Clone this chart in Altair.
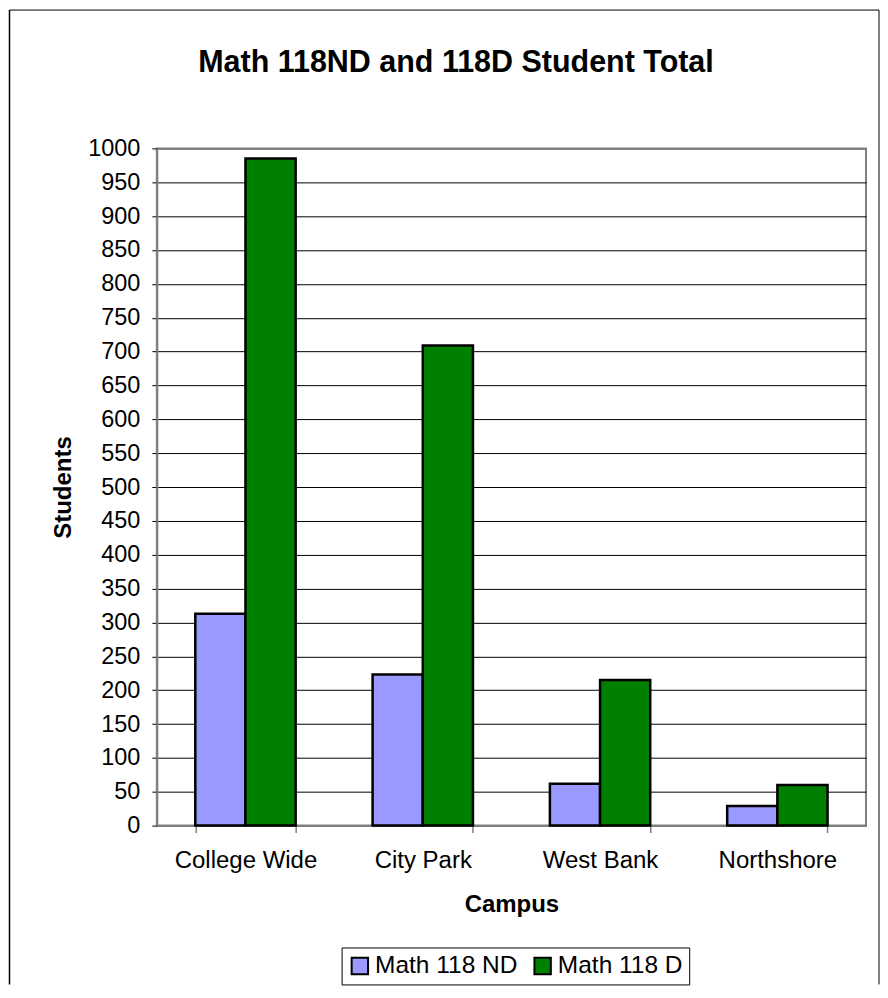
import altair as alt
import pandas as pd

campuses = ["College Wide", "City Park", "West Bank", "Northshore"]
nd_values = [313, 223, 62, 29]
d_values = [985, 709, 215, 60]
series = ["Math 118 ND", "Math 118 D"]
colors = ["#9999FF", "#008000"]
y_ticks = list(range(0, 1001, 50))
title_text = "Math 118ND and 118D Student Total"

rows = []
for c, a, b in zip(campuses, nd_values, d_values):
    rows.append({"Campus": c, "Series": series[0], "Students": a})
    rows.append({"Campus": c, "Series": series[1], "Students": b})
df = pd.DataFrame(rows)

W, H = 710, 678
FONT = "Liberation Sans"

bars = alt.Chart(df).mark_bar(stroke="black", strokeWidth=2.5).encode(
    x=alt.X(
        "Campus:N", sort=campuses,
        scale=alt.Scale(paddingInner=0.434, paddingOuter=0.217),
        axis=alt.Axis(title="Campus", labelAngle=0, tickBand="extent", tickSize=7,
                      labelPadding=16, titlePadding=20, domainColor="#808080",
                      domainWidth=2, tickColor="#808080", tickWidth=1.5, grid=False,
                      labelFont=FONT, labelFontSize=24, labelColor="black",
                      titleFont=FONT, titleFontSize=24, titleFontWeight="bold",
                      titleColor="black"),
    ),
    xOffset=alt.XOffset("Series:N", sort=series,
                        scale=alt.Scale(paddingInner=0, paddingOuter=0)),
    y=alt.Y(
        "Students:Q", scale=alt.Scale(domain=[0, 1000], nice=False),
        axis=alt.Axis(values=y_ticks, format="d", title="Students", tickSize=5,
                      labelPadding=12, titlePadding=12, grid=True,
                      gridColor=alt.condition("datum.value >= 1000", alt.value("#808080"), alt.value("black")),
                      gridWidth=alt.condition("datum.value >= 1000", alt.value(2), alt.value(1)),
                      domainColor="#808080", domainWidth=2, tickColor="black",
                      labelFont=FONT, labelFontSize=23.5, labelColor="black",
                      titleFont=FONT, titleFontSize=24, titleFontWeight="bold",
                      titleColor="black"),
    ),
    fill=alt.Fill(
        "Series:N", sort=series,
        scale=alt.Scale(domain=series, range=colors),
        legend=alt.Legend(title=None, orient="none", legendX=185, legendY=800,
                          direction="horizontal", strokeColor="black", padding=6,
                          symbolType="square", symbolSize=270, symbolStrokeColor="black",
                          symbolStrokeWidth=2, labelFontSize=24.5, labelFont=FONT,
                          labelColor="black", columnPadding=12, labelOffset=3),
    ),
)

title_df = pd.DataFrame({"t": [title_text]})
title_mark = alt.Chart(title_df).mark_text(
    font=FONT, fontSize=30.5, fontWeight="bold", color="black",
    align="center", baseline="alphabetic",
).encode(x=alt.value(299.5), y=alt.value(-76), text="t:N")

frame_df = pd.DataFrame({"k": [0]})
frame_left = alt.Chart(frame_df).mark_rule(color="black", strokeWidth=1.5).encode(
    x=alt.value(-147.5), y=alt.value(-138.5), y2=alt.value(837))
frame_top = alt.Chart(frame_df).mark_rule(color="black", strokeWidth=1).encode(
    x=alt.value(-147.5), x2=alt.value(723), y=alt.value(-138.5))
frame_right = alt.Chart(frame_df).mark_rule(color="black", strokeWidth=1).encode(
    x=alt.value(723), y=alt.value(-138.5), y2=alt.value(837))

chart = alt.layer(bars, title_mark, frame_left, frame_top, frame_right).properties(
    width=W, height=H, padding=0,
).configure(
    background="white",
).configure_view(
    stroke="#808080", strokeWidth=2,
)

chart.save("out.html", embed_options={"renderer": "svg", "actions": False})
